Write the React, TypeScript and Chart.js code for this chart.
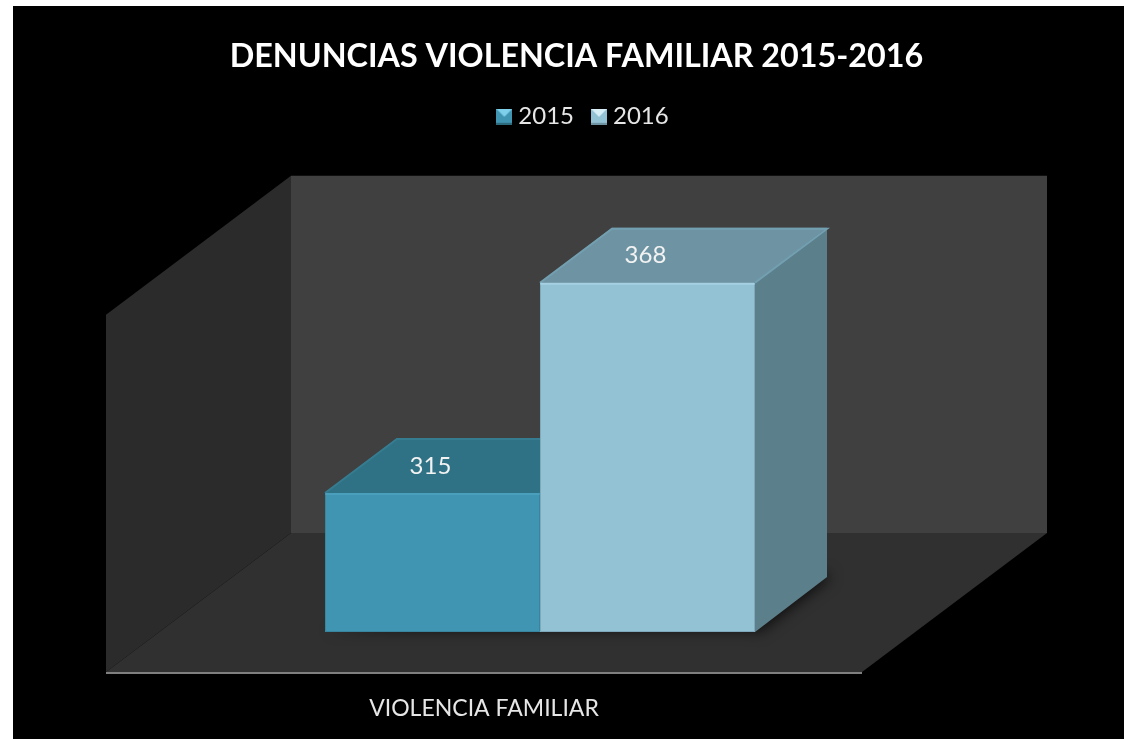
import React, { useEffect, useRef } from "react";
import { Chart, registerables } from "chart.js";

Chart.register(...registerables);

const categories = ["VIOLENCIA FAMILIAR"];
const seriesNames = ["2015", "2016"];
const values2015 = [315];
const values2016 = [368];
const yMin = 280;
const yMax = 370;

const titleText = "DENUNCIAS VIOLENCIA FAMILIAR 2015-2016";
const fontName = "Lato, Carlito, Calibri, sans-serif";

const frontColors = ["#4095b2", "#94c2d5"];
const topColors = ["#2f7285", "#6e94a4"];
const sideColors = ["#2c6a7d", "#5c7f8c"];
const edgeColors = ["#4a9fbd", "#a4d0e2"];
const topEdgeColors = ["#357c91", "#73a0b1"];
const frameColors = ["#37859f", "#7fa9ba"];

// projected depth of the walls and of the bars, in pixels
const wallFront = { dx: -56, dy: 40 };
const wallBack = { dx: 129, dy: -99 };
const barDepth = { dx: 72, dy: -55 };
const legendLift = 136;

function marker(base: string, light: string, dark: string) {
  const c = document.createElement("canvas");
  c.width = 16;
  c.height = 16;
  const g = c.getContext("2d")!;
  g.fillStyle = base;
  g.fillRect(0, 0, 16, 16);
  g.fillStyle = light;
  g.beginPath();
  g.moveTo(0, 0);
  g.lineTo(16, 0);
  g.lineTo(8, 8);
  g.closePath();
  g.fill();
  g.fillStyle = dark;
  g.fillRect(0, 14, 16, 2);
  return c;
}

function poly(ctx: CanvasRenderingContext2D, pts: number[][], fill: string) {
  ctx.fillStyle = fill;
  ctx.beginPath();
  pts.forEach((p, i) => (i ? ctx.lineTo(p[0], p[1]) : ctx.moveTo(p[0], p[1])));
  ctx.closePath();
  ctx.fill();
}

const scene3d = {
  id: "scene3d",
  afterLayout(chart: any) {
    // Title and legend sit a little right of the plot centre in the reference.
    const t = chart.titleBlock;
    t.left += 36.5;
    t.right += 36.5;
    const l = chart.legend;
    l.left += 45.5;
    l.right += 45.5;
    l.top -= legendLift;
    l.bottom -= legendLift;
  },
  beforeDraw(chart: any) {
    const ctx = chart.ctx;
    ctx.save();
    ctx.fillStyle = "#000000";
    ctx.fillRect(13, 6, chart.width - 13, chart.height - 6);
    ctx.restore();
  },
  beforeDatasetsDraw(chart: any) {
    const { ctx, chartArea: a, scales } = chart;
    const yTop = scales.y.getPixelForValue(yMax);
    const yBot = scales.y.getPixelForValue(yMin);
    const fl = a.left + wallFront.dx, fr = a.right + wallFront.dx, fb = yBot + wallFront.dy, ft = yTop + wallFront.dy;
    const bl = a.left + wallBack.dx, br = a.right + wallBack.dx, bb = yBot + wallBack.dy, bt = yTop + wallBack.dy;
    ctx.save();
    poly(ctx, [[fl, ft], [bl, bt], [bl, bb], [fl, fb]], "#2b2b2b");
    poly(ctx, [[bl, bt], [br, bt], [br, bb], [bl, bb]], "#404040");
    poly(ctx, [[fl, fb], [bl, bb], [br, bb], [fr, fb]], "#303030");
    ctx.strokeStyle = "#7f7f7f";
    ctx.lineWidth = 2;
    ctx.beginPath();
    ctx.moveTo(fl, fb + 1);
    ctx.lineTo(fr, fb + 1);
    ctx.stroke();

    // soft contact shadow under the bars
    const first = chart.getDatasetMeta(0).data[0];
    const last = chart.getDatasetMeta(1).data[0];
    const x0 = first.x - first.width / 2;
    const x1 = last.x + last.width / 2;
    ctx.save();
    ctx.shadowColor = "rgba(0,0,0,0.7)";
    ctx.shadowBlur = 14;
    ctx.shadowOffsetX = 2;
    ctx.shadowOffsetY = 2;
    poly(ctx, [[x0, yBot - 4], [x1, yBot - 4], [x1, yBot], [x1 + barDepth.dx, yBot + barDepth.dy], [x1 + barDepth.dx, yBot + barDepth.dy - 6]], "#2a2a2a");
    ctx.restore();

    // top and side faces, projected from the bars that Chart.js laid out
    [0, 1].forEach((i) => {
      const b = chart.getDatasetMeta(i).data[0];
      const l = b.x - b.width / 2, r = b.x + b.width / 2;
      const d = barDepth;
      poly(ctx, [[l, b.y], [l + d.dx, b.y + d.dy], [r + d.dx, b.y + d.dy], [r, b.y]], topColors[i]);
      poly(ctx, [[r, b.y], [r + d.dx, b.y + d.dy], [r + d.dx, yBot + d.dy], [r, yBot]], sideColors[i]);
      ctx.strokeStyle = topEdgeColors[i];
      ctx.lineWidth = 2;
      ctx.beginPath();
      ctx.moveTo(l, b.y);
      ctx.lineTo(l + d.dx, b.y + d.dy + 1);
      ctx.lineTo(r + d.dx, b.y + d.dy + 1);
      ctx.lineTo(r, b.y);
      ctx.stroke();
    });
    ctx.restore();
  },
  afterDatasetsDraw(chart: any) {
    const ctx = chart.ctx;
    const yBot = chart.scales.y.getPixelForValue(yMin);
    ctx.save();
    [0, 1].forEach((i) => {
      const b = chart.getDatasetMeta(i).data[0];
      const l = b.x - b.width / 2, r = b.x + b.width / 2;
      ctx.strokeStyle = edgeColors[i];
      ctx.lineWidth = 2;
      ctx.beginPath();
      ctx.moveTo(l + 1, b.y + 1);
      ctx.lineTo(r - 1, b.y + 1);
      ctx.stroke();
      ctx.strokeStyle = frameColors[i];
      ctx.lineWidth = 1;
      ctx.beginPath();
      ctx.moveTo(l + 0.5, b.y + 2);
      ctx.lineTo(l + 0.5, yBot - 0.5);
      ctx.lineTo(r - 0.5, yBot - 0.5);
      ctx.lineTo(r - 0.5, b.y + 2);
      ctx.stroke();
      ctx.fillStyle = "#f2f2f2";
      ctx.font = `24px ${fontName}`;
      ctx.textAlign = "center";
      ctx.textBaseline = "middle";
      const v = chart.data.datasets[i].data[0];
      ctx.fillText(String(v), b.x - 2, b.y - 27);
    });
    ctx.restore();
  },
};

export default function App() {
  const ref = useRef<HTMLCanvasElement>(null);
  useEffect(() => {
    const chart = new Chart(ref.current!, {
      type: "bar",
      data: {
        labels: categories,
        datasets: [
          { label: seriesNames[0], data: values2015, backgroundColor: frontColors[0], pointStyle: marker(frontColors[0], "#7fd0ea", "#2c6a7d") as any },
          { label: seriesNames[1], data: values2016, backgroundColor: frontColors[1], pointStyle: marker(frontColors[1], "#d8eef7", "#6e94a4") as any },
        ],
      },
      options: {
        animation: false,
        responsive: false,
        events: [],
        categoryPercentage: 430 / 756,
        barPercentage: 1,
        layout: { padding: { left: 162, right: 206, top: 37, bottom: 0 } },
        plugins: {
          title: {
            display: true,
            text: titleText,
            color: "#ffffff",
            font: { family: fontName, size: 32.3, weight: "bold" },
            padding: { top: 0, bottom: 142 },
          },
          legend: {
            display: true,
            position: "top",
            labels: {
              color: "#e6e6e6",
              font: { family: fontName, size: 24 },
              usePointStyle: true,
              pointStyleWidth: 4,
              boxWidth: 14,
              boxHeight: 14,
              padding: 23,
            },
          },
          tooltip: { enabled: false },
        },
        scales: {
          x: {
            grid: { display: false },
            border: { display: false },
            afterFit(s: any) {
              s.height = 107;
            },
            ticks: {
              color: "#e6e6e6",
              labelOffset: wallFront.dx,
              padding: 55,
              font: { family: fontName, size: 23 },
            },
          },
          y: { display: false, min: yMin, max: yMax },
        },
      } as any,
      plugins: [scene3d],
    });
    return () => chart.destroy();
  }, []);
  return (
    <div style={{ position: "fixed", left: 0, top: 0, width: 1124, height: 739, background: "#ffffff" }}>
      <canvas ref={ref} width={1124} height={739} style={{ display: "block" }} />
    </div>
  );
}
